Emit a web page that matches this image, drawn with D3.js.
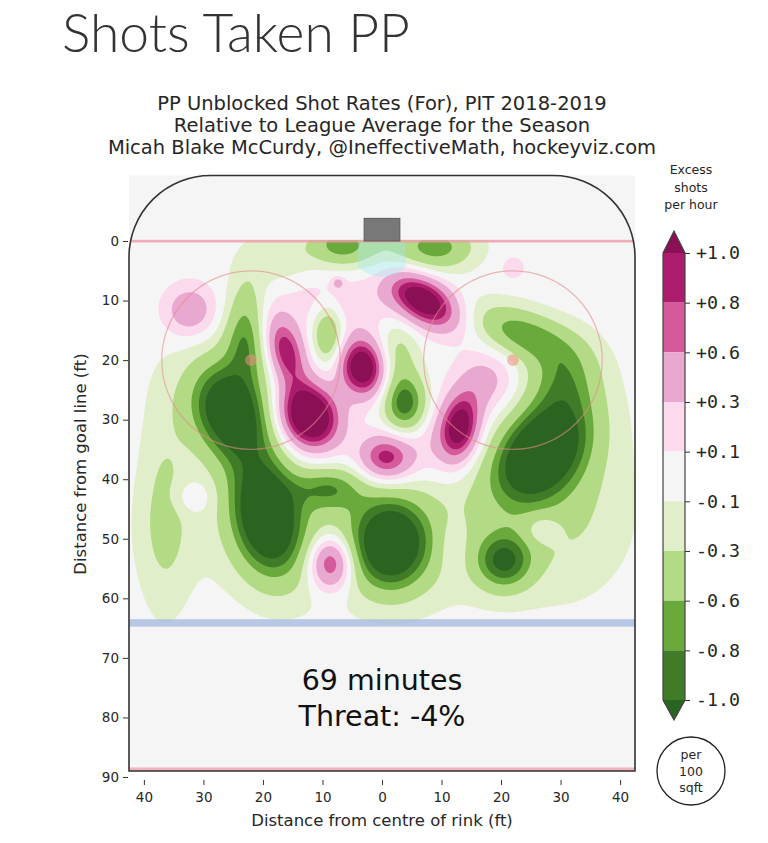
<!DOCTYPE html>
<html><head><meta charset="utf-8">
<script src="https://cdn.jsdelivr.net/npm/d3@7"></script>
<style>body{margin:0;background:#fff} svg{display:block}</style>
</head><body>
<svg id="c" width="768" height="843"></svg>
<script>
// ---------------- data (feet; value = excess shots per hour per 100 sqft) ----------------
const pageTitle = "Shots Taken PP";
const subtitleLines = [
  "PP Unblocked Shot Rates (For), PIT 2018-2019",
  "Relative to League Average for the Season",
  "Micah Blake McCurdy, @IneffectiveMath, hockeyviz.com"
];
const annotationLines = ["69 minutes", "Threat: -4%"];
const legendTitle = ["Excess", "shots", "per hour"];
const legendUnit = ["per", "100", "sqft"];

// hot / cold spots: centre (ft), peak value, spread along / across axis (ft), axis angle (deg)
const blobName   = ["P1","P2a","P2b","P3","P4","P5","P5b","P6","P7","P8","P9","P9s","P10","H1","H2","H3",
                    "B1","G1a","G1b","G1c","G2","G2b","G3","G3b","G4","Gbr","G5a","G5b","G5c","G5d","G7","G9","G9b","G10","G11","G12","G13"];
const blobX      = [-32.3,-16.2,-12.3,-3.2, 7.0,13.1,17.5, 0.6,-8.6,22.0,-7.0,-7.4, 8.0,-32.1,26.9,11.8,
                     0.0,-25.5,-19.5,-23.0,-36.5,-37.0,-22.7,-17.5, 1.5,-9.0,26.5,30.5,23.5,31.0,20.5, 3.9, 2.5,-9.1, 9.4,-6.8, -2.0];
const blobY      = [11.7,18.5,29.5,21.2,10.0,31.3,23.5,36.5,54.0, 4.5,10.0, 7.0,33.0,43.0,48.4,51.2,
                    49.0,28.5,46.0,18.0,46.0,26.0,12.0, 3.0,51.0,41.5,35.5,23.0,15.5,40.0,53.8,27.5,19.0,15.5, 1.0, 0.5, 1.5];
const blobPeak   = [0.52,0.95,1.60,1.35,1.30,1.15,0.40,0.95,1.05,0.22,0.25,0.35,0.25,0.22,0.30,0.20,
                    -0.35,-1.45,-1.40,-0.45,-0.35,-0.06,-0.45,-0.22,-1.25,-0.60,-1.45,-0.55,-0.72,-0.30,-0.90,-1.00,-0.40,-0.70,-0.60,-0.55,-0.28];
const blobSpreadA= [3.0,4.2,4.0,3.4,4.6,4.0,3.5,3.2,3.2,1.5,7.0,0.7,5.0,2.5,2.2,2.0,
                    20.0,6.0,7.0,4.0,11.0,7.0,5.0,4.0,5.2,4.0,6.5,4.5,6.0,12.0,3.3,3.5,4.0,3.5,4.2,3.2,9.0];
const blobSpreadB= [3.0,2.2,3.4,2.7,2.6,2.3,3.5,2.8,2.6,1.5,4.0,0.7,5.0,2.0,1.8,3.5,
                    8.0,4.5,4.0,2.5,3.0,3.0,2.3,3.0,4.3,2.5,4.5,4.0,2.8,7.0,3.3,2.6,2.5,1.8,2.6,2.2,3.5];
const blobAngle  = [0,74,60,80,33,100,0,0,90,0,0,0,0,0,0,0,
                    0,70,80,80,90,90,90,0,90,0,-49,90,20,90,0,90,90,90,0,0,0];

const levels = [0.1, 0.3, 0.6, 0.8, 1.0];
const pinkColors  = ["#fbdaed", "#e9a8cf", "#d45a9c", "#ac1c6c", "#8a0f55"];
const greenColors = ["#e0efca", "#b3da84", "#6aaa3c", "#407c28", "#2b6420"];

const xTicks = [-40, -30, -20, -10, 0, 10, 20, 30, 40];
const yTicks = [0, 10, 20, 30, 40, 50, 60, 70, 80, 90];
const cbLabels = ["+1.0", "+0.8", "+0.6", "+0.3", "+0.1", "-0.1", "-0.3", "-0.6", "-0.8", "-1.0"];
const cbColors = ["#ac1c6c", "#d45a9c", "#e9a8cf", "#fbdaed", "#f5f5f5", "#e0efca", "#b3da84", "#6aaa3c", "#407c28"];
const cbOverColor = "#8a0f55", cbUnderColor = "#2b6420";

// ---------------- drawing ----------------
const svg = d3.select("#c");
const x = d3.scaleLinear().domain([-42.5, 42.5]).range([129, 635]);
const y = d3.scaleLinear().domain([0, 90]).range([241, 777]);
const ink = "#262626";

// page title
const tt = svg.append("text").attr("x", 62).attr("y", 52)
  .attr("font-family", "Lato, 'Open Sans', sans-serif").attr("font-weight", 300)
  .attr("font-size", 52).attr("fill", "#333").text(pageTitle);
const tw = tt.node().getComputedTextLength();
tt.attr("font-size", 52 * 348 / tw);

svg.append("g").selectAll("text").data(subtitleLines).join("text")
  .attr("x", 382).attr("y", (d, i) => 110 + i * 22)
  .attr("text-anchor", "middle").attr("font-family", "DejaVu Sans").attr("font-size", 19.5)
  .attr("fill", ink).text(d => d);

// rink shape
const R = 13.7;
function rinkPath() {
  const p = d3.path();
  p.moveTo(x(-42.5), y(89));
  p.lineTo(x(-42.5), y(-11 + R));
  p.arcTo(x(-42.5), y(-11), x(-42.5 + R), y(-11), x(-42.5 + R) - x(-42.5));
  p.lineTo(x(42.5 - R), y(-11));
  p.arcTo(x(42.5), y(-11), x(42.5), y(-11 + R), x(-42.5 + R) - x(-42.5));
  p.lineTo(x(42.5), y(89));
  p.closePath();
  return p.toString();
}
svg.append("rect").attr("x", x(-42.5)).attr("y", y(-11))
  .attr("width", x(42.5) - x(-42.5)).attr("height", y(89) - y(-11)).attr("fill", "#f5f5f5");
svg.append("clipPath").attr("id", "rinkclip").append("path").attr("d", rinkPath());

// field
const step = 0.25, gx0 = -42.5, gx1 = 42.5, gy0 = 0, gy1 = 64.8;
const nx = Math.round((gx1 - gx0) / step) + 1, ny = Math.round((gy1 - gy0) / step) + 1;
const vals = new Float64Array(nx * ny);
const bl = blobX.map((bx, k) => {
  const a = blobAngle[k] * Math.PI / 180;
  return {bx, by: blobY[k], pk: blobPeak[k], ca: Math.cos(a), sa: Math.sin(a),
          ia: 1 / (2 * blobSpreadA[k] * blobSpreadA[k]), ib: 1 / (2 * blobSpreadB[k] * blobSpreadB[k])};
});
for (let j = 0; j < ny; j++) {
  const yv = gy0 + j * step;
  for (let i = 0; i < nx; i++) {
    const xv = gx0 + i * step;
    let s = 0;
    for (const b of bl) {
      const dx = xv - b.bx, dy = yv - b.by;
      const u = dx * b.ca + dy * b.sa, v = -dx * b.sa + dy * b.ca;
      s += b.pk * Math.exp(-(u * u * b.ia + v * v * b.ib));
    }
    vals[j * nx + i] = s;
  }
}
const neg = vals.map(v => -v);
const proj = d3.geoTransform({point(cx, cy) {
  this.stream.point(x(gx0 + (cx - 0.5) * step), y(gy0 + (cy - 0.5) * step));
}});
const gpath = d3.geoPath(proj);
const contours = d3.contours().size([nx, ny]).thresholds(levels);
const fieldG = svg.append("g").attr("clip-path", "url(#rinkclip)");
fieldG.selectAll("path.pos").data(contours(vals)).join("path").attr("class", "pos")
  .attr("d", gpath).attr("fill", (d, i) => pinkColors[i]);
fieldG.selectAll("path.neg").data(contours(neg)).join("path").attr("class", "neg")
  .attr("d", gpath).attr("fill", (d, i) => greenColors[i]);

// rink markings
const mk = svg.append("g").attr("clip-path", "url(#rinkclip)");
const crease = d3.path();
crease.moveTo(x(-4), y(0)); crease.lineTo(x(-4), y(4.47));
crease.arc(x(0), y(0), x(6) - x(0), Math.PI - Math.asin(4.47 / 6), Math.asin(4.47 / 6), true);
crease.lineTo(x(4), y(0)); crease.closePath();
mk.append("path").attr("d", crease.toString()).attr("fill", "#9eeaf0").attr("opacity", 0.38);
mk.append("rect").attr("x", x(-42.5)).attr("width", x(42.5) - x(-42.5))
  .attr("y", y(63.5)).attr("height", y(64.75) - y(63.5)).attr("fill", "#a9bbe0").attr("opacity", 0.8);
mk.append("rect").attr("x", x(-42.5)).attr("width", x(42.5) - x(-42.5))
  .attr("y", y(-0.2)).attr("height", y(0.25) - y(-0.2)).attr("fill", "#ee9aa6").attr("opacity", 0.8);
mk.append("rect").attr("x", x(-42.5)).attr("width", x(42.5) - x(-42.5))
  .attr("y", y(88.4)).attr("height", y(89.5) - y(88.4)).attr("fill", "#f0a4ae").attr("opacity", 0.8);
[-22, 22].forEach(cx => {
  mk.append("circle").attr("cx", x(cx)).attr("cy", y(20)).attr("r", x(15) - x(0))
    .attr("fill", "none").attr("stroke", "#e58a8a").attr("stroke-width", 1.2).attr("opacity", 0.6);
  mk.append("circle").attr("cx", x(cx)).attr("cy", y(20)).attr("r", x(1) - x(0))
    .attr("fill", "#ee9080").attr("opacity", 0.55);
});
svg.append("rect").attr("x", x(-3)).attr("y", y(-3.8)).attr("width", x(3) - x(-3)).attr("height", y(0) - y(-3.8))
  .attr("fill", "#787878").attr("stroke", "#5a5a5a").attr("stroke-width", 1);
svg.append("path").attr("d", rinkPath()).attr("fill", "none").attr("stroke", "#333").attr("stroke-width", 1.6);

// annotations
svg.append("g").selectAll("text").data(annotationLines).join("text")
  .attr("x", x(0)).attr("y", (d, i) => 690 + i * 36).attr("text-anchor", "middle")
  .attr("font-family", "DejaVu Sans").attr("font-size", 28.5).attr("fill", "#111").text(d => d);

// axes
const yAx = svg.append("g").attr("transform", `translate(${x(-42.5) - 1},0)`)
  .call(d3.axisLeft(y).tickValues(yTicks).tickSize(5).tickPadding(4));
const xAx = svg.append("g").attr("transform", `translate(0,${y(90) + 3})`)
  .call(d3.axisBottom(x).tickValues(xTicks).tickSize(5).tickPadding(7).tickFormat(d => Math.abs(d)));
[yAx, xAx].forEach(a => {
  a.select(".domain").remove();
  a.selectAll("line").attr("stroke", "#333");
  a.selectAll("text").attr("font-family", "DejaVu Sans").attr("font-size", 13.5).attr("fill", ink);
});
svg.append("text").attr("transform", `translate(86,464) rotate(-90)`).attr("text-anchor", "middle")
  .attr("font-family", "DejaVu Sans").attr("font-size", 16.5).attr("fill", ink).text("Distance from goal line (ft)");
svg.append("text").attr("x", x(0)).attr("y", 826).attr("text-anchor", "middle")
  .attr("font-family", "DejaVu Sans").attr("font-size", 16.5).attr("fill", ink).text("Distance from centre of rink (ft)");

// colorbar
const cb = d3.scalePoint().domain(cbLabels).range([253, 700]);
const cbx0 = 663, cbx1 = 685;
const cbG = svg.append("g");
cbLabels.slice(0, -1).forEach((lab, i) => {
  cbG.append("rect").attr("x", cbx0).attr("y", cb(lab)).attr("width", cbx1 - cbx0)
    .attr("height", cb(cbLabels[i + 1]) - cb(lab)).attr("fill", cbColors[i]);
});
cbG.append("path").attr("d", `M${cbx0},${cb("+1.0")}L${(cbx0 + cbx1) / 2},231L${cbx1},${cb("+1.0")}Z`).attr("fill", cbOverColor);
cbG.append("path").attr("d", `M${cbx0},${cb("-1.0")}L${(cbx0 + cbx1) / 2},720L${cbx1},${cb("-1.0")}Z`).attr("fill", cbUnderColor);
cbG.append("path").attr("d", `M${cbx0},${cb("+1.0")}L${(cbx0 + cbx1) / 2},231L${cbx1},${cb("+1.0")}L${cbx1},${cb("-1.0")}L${(cbx0 + cbx1) / 2},720L${cbx0},${cb("-1.0")}Z`)
  .attr("fill", "none").attr("stroke", "#444").attr("stroke-width", 1.2);
const cbAx = cbG.append("g").attr("transform", `translate(${cbx1},0)`)
  .call(d3.axisRight(cb).tickSize(5).tickPadding(6));
cbAx.select(".domain").remove();
cbAx.selectAll("line").attr("stroke", "#333");
cbAx.selectAll("text").attr("font-family", "DejaVu Sans Mono").attr("font-size", 18.3).attr("fill", ink);

svg.append("g").selectAll("text").data(legendTitle).join("text")
  .attr("x", 691).attr("y", (d, i) => 174 + i * 17.5).attr("text-anchor", "middle")
  .attr("font-family", "DejaVu Sans").attr("font-size", 12.5).attr("fill", ink).text(d => d);
svg.append("circle").attr("cx", 691).attr("cy", 771).attr("r", 34)
  .attr("fill", "#fff").attr("stroke", "#222").attr("stroke-width", 1.3);
svg.append("g").selectAll("text").data(legendUnit).join("text")
  .attr("x", 691).attr("y", (d, i) => 759 + i * 16.5).attr("text-anchor", "middle")
  .attr("font-family", "DejaVu Sans").attr("font-size", 12.5).attr("fill", ink).text(d => d);
</script>
</body></html>
